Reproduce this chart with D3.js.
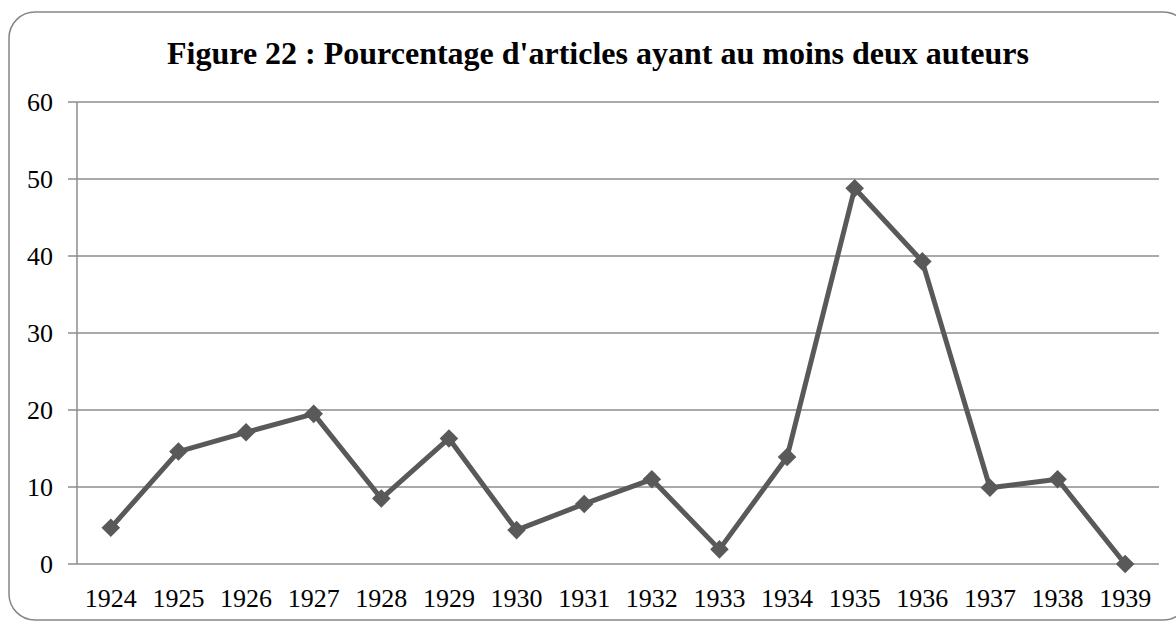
<!DOCTYPE html>
<html>
<head>
<meta charset="utf-8">
<script src="https://cdn.jsdelivr.net/npm/d3@7"></script>
<style>
  body { margin: 0; background: #fff; }
  text { font-family: "Liberation Serif", "Times New Roman", serif; fill: #000; }
</style>
</head>
<body>
<script>
// Data
const years = ["1924", "1925", "1926", "1927", "1928", "1929", "1930", "1931",
               "1932", "1933", "1934", "1935", "1936", "1937", "1938", "1939"];
const percentages = [4.7, 14.6, 17.1, 19.5, 8.5, 16.3, 4.4, 7.8,
                     11.0, 1.9, 13.9, 48.8, 39.3, 9.9, 11.0, 0];
const yTicks = [0, 10, 20, 30, 40, 50, 60];

const width = 1176;
const height = 623;
const marginTop = 102;
const marginRight = 17;
const marginBottom = 59;
const marginLeft = 77;

const svg = d3.select("body").append("svg")
    .attr("width", width)
    .attr("height", height);

// Rounded frame
svg.append("rect")
    .attr("x", 9)
    .attr("y", 12)
    .attr("width", 1180)
    .attr("height", 608)
    .attr("rx", 26)
    .attr("fill", "#fff")
    .attr("stroke", "#868686")
    .attr("stroke-width", 1.5);

// Title
svg.append("text")
    .attr("x", 598)
    .attr("y", 64)
    .attr("text-anchor", "middle")
    .style("font-size", "32px")
    .style("font-weight", "bold")
    .text("Figure 22 : Pourcentage d'articles ayant au moins deux auteurs");

const x = d3.scaleBand()
    .domain(years)
    .range([marginLeft, width - marginRight]);

const y = d3.scaleLinear()
    .domain([0, 60])
    .range([height - marginBottom, marginTop]);

// Gridlines
svg.append("g")
    .selectAll("line")
    .data(yTicks)
    .join("line")
    .attr("x1", marginLeft - 9)
    .attr("x2", width - marginRight)
    .attr("y1", d => y(d))
    .attr("y2", d => y(d))
    .attr("stroke", "#8c8c8c")
    .attr("stroke-width", 1.5);

// Y axis line
svg.append("line")
    .attr("x1", marginLeft)
    .attr("x2", marginLeft)
    .attr("y1", marginTop)
    .attr("y2", height - marginBottom)
    .attr("stroke", "#8c8c8c")
    .attr("stroke-width", 1.5);

// Y labels
svg.append("g")
    .selectAll("text")
    .data(yTicks)
    .join("text")
    .attr("x", 53)
    .attr("y", d => y(d))
    .attr("dy", "0.35em")
    .attr("text-anchor", "end")
    .style("font-size", "26px")
    .text(d => d);

// X labels
svg.append("g")
    .selectAll("text")
    .data(years)
    .join("text")
    .attr("x", d => x(d) + x.bandwidth() / 2)
    .attr("y", height - marginBottom + 43)
    .attr("text-anchor", "middle")
    .style("font-size", "26px")
    .text(d => d);

const points = years.map((yr, i) => ({ year: yr, value: percentages[i] }));

// Line
svg.append("path")
    .datum(points)
    .attr("fill", "none")
    .attr("stroke", "#595959")
    .attr("stroke-width", 5)
    .attr("stroke-linejoin", "round")
    .attr("d", d3.line()
        .x(d => x(d.year) + x.bandwidth() / 2)
        .y(d => y(d.value)));

// Diamond markers
svg.append("g")
    .selectAll("path")
    .data(points)
    .join("path")
    .attr("transform", d => `translate(${x(d.year) + x.bandwidth() / 2},${y(d.value)})`)
    .attr("d", d3.symbol(d3.symbolDiamond2, 220))
    .attr("fill", "#595959");
</script>
</body>
</html>
